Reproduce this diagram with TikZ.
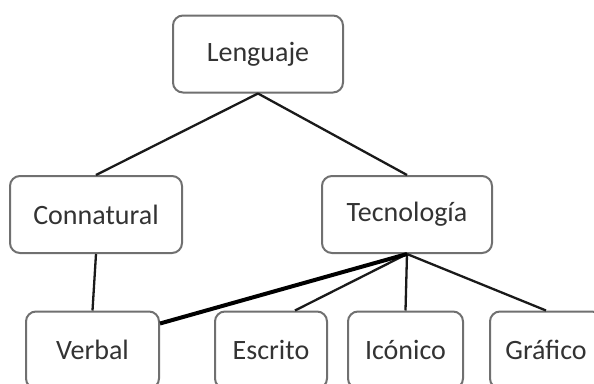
\documentclass[tikz,border=0pt]{standalone}
\usepackage{fontspec}
\setmainfont{Carlito}
\definecolor{boxline}{HTML}{707070}
\definecolor{txt}{HTML}{333333}
\definecolor{conn}{HTML}{1A1A1A}
\tikzset{
  box/.style={draw=boxline, line width=2pt, rounded corners=10pt, fill=white,
    minimum height=77pt, inner sep=0pt, text=txt, font=\fontsize{28}{32}\selectfont},
  link/.style={draw=conn, line width=2.3pt},
  boldlink/.style={draw=black, line width=4pt}
}
\begin{document}
\begin{tikzpicture}[x=1pt,y=-1pt]
\path[use as bounding box, fill=white] (0,0) rectangle (594,383);
\clip (0,0) rectangle (594,383);
\node[box, minimum width=170pt] (L) at (258,54) {Lenguaje};
\node[box, minimum width=172pt] (C) at (96,214.5) {Connatural};
\node[box, minimum width=170pt] (T) at (407,214.5) {Tecnología};
\node[box, minimum width=133pt] (V) at (92.5,350) {Verbal};
\node[box, minimum width=112pt] (E) at (271,350) {Escrito};
\node[box, minimum width=115pt] (I) at (405.5,350) {Icónico};
\node[box, minimum width=112pt] (G) at (546,350) {Gráfico};
\draw[link] (L.south) -- (C.north);
\draw[link] (L.south) -- (T.north);
\draw[link] (C.south) -- (V.north);
\draw[link] (T.south) -- ([xshift=24pt]E.north);
\draw[link] (T.south) -- (I.north);
\draw[link] (T.south) -- (G.north);
\draw[boldlink] (T.south) -- ([yshift=-13pt]V.north east);
\end{tikzpicture}
\end{document}
